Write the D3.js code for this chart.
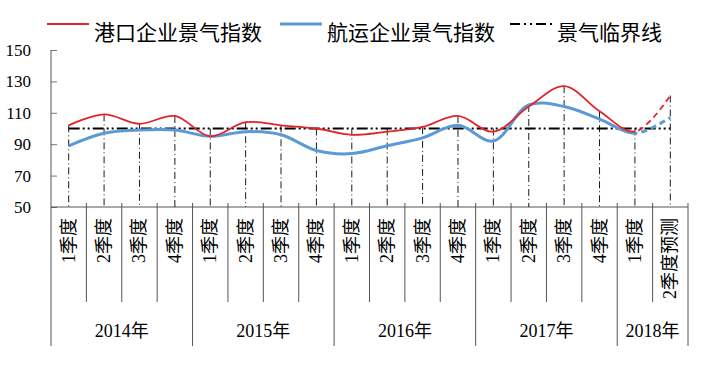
<!DOCTYPE html>
<html>
<head>
<meta charset="utf-8">
<script src="https://cdn.jsdelivr.net/npm/d3@7"></script>
<style>
  body { margin: 0; background: #fff; }
  svg { display: block; }
</style>
</head>
<body>
<div id="chart"></div>
<script>
// values
const quarters = ['1季度', '2季度', '3季度', '4季度',
  '1季度', '2季度', '3季度', '4季度',
  '1季度', '2季度', '3季度', '4季度',
  '1季度', '2季度', '3季度', '4季度',
  '1季度', '2季度预测'];
const years = ['2014年', '2015年', '2016年', '2017年', '2018年'];
const quartersPerYear = [4, 4, 4, 4, 2];
const portIndex = [102, 109, 103, 108, 95, 104, 102, 100, 96, 98, 101, 108, 98, 114, 127, 111, 98, 121];
const shippingIndex = [89, 97, 99, 99, 95, 98, 96, 86, 84, 89, 94, 102, 92, 115, 114, 106, 97, 107];
const criticalValue = 100;
const yTicks = [50, 70, 90, 110, 130, 150];
const legendNames = ['港口企业景气指数', '航运企业景气指数', '景气临界线'];

const width = 709, height = 378;
const plotLeft = 51, plotRight = 688, plotTop = 50, plotBottom = 207;
const serif = '"Liberation Serif", "Times New Roman", "Noto Sans CJK SC", serif';
const cjk = '"Liberation Serif", "Noto Sans CJK SC", sans-serif';

const svg = d3.select('#chart').append('svg')
  .attr('width', width)
  .attr('height', height);

const ids = d3.range(quarters.length);
const x = d3.scaleBand().domain(ids).range([plotLeft, plotRight]).padding(0);
const cx = i => x(i) + x.bandwidth() / 2;
const y = d3.scaleLinear().domain([50, 150]).range([plotBottom, plotTop]);

// y axis
const yAxis = svg.append('g')
  .attr('transform', `translate(${plotLeft},0)`)
  .call(d3.axisLeft(y).tickValues(yTicks).tickSize(-6).tickPadding(20));
yAxis.select('.domain').remove();
yAxis.selectAll('line').attr('stroke', '#777');
yAxis.selectAll('text')
  .style('font-family', serif)
  .style('font-size', '17px')
  .attr('fill', '#000');

svg.append('line')
  .attr('x1', plotLeft).attr('x2', plotLeft)
  .attr('y1', plotTop).attr('y2', 346)
  .attr('stroke', '#555');

// x axis line
svg.append('line')
  .attr('x1', plotLeft).attr('x2', plotRight)
  .attr('y1', plotBottom).attr('y2', plotBottom)
  .attr('stroke', '#555');

// category boundaries, long ones at year breaks
const yearStarts = [];
let acc = 0;
quartersPerYear.forEach(n => { yearStarts.push(acc); acc += n; });
for (let i = 1; i <= quarters.length; i++) {
  const isYear = i === quarters.length || yearStarts.includes(i);
  svg.append('line')
    .attr('x1', x(i - 1) + x.bandwidth()).attr('x2', x(i - 1) + x.bandwidth())
    .attr('y1', plotBottom - 4).attr('y2', isYear ? 346 : 302)
    .attr('stroke', '#555');
}

// quarter labels, rotated
svg.append('g').selectAll('text')
  .data(quarters)
  .join('text')
  .attr('transform', (d, i) => `translate(${cx(i) + 6},218) rotate(-90)`)
  .attr('text-anchor', 'end')
  .style('font-family', cjk)
  .style('font-size', '18px')
  .text(d => d);

// year labels
svg.append('g').selectAll('text')
  .data(years)
  .join('text')
  .attr('x', (d, i) => {
    const a = yearStarts[i], b = a + quartersPerYear[i] - 1;
    return (x(a) + x(b) + x.bandwidth()) / 2;
  })
  .attr('y', 337)
  .attr('text-anchor', 'middle')
  .style('font-family', cjk)
  .style('font-size', '18px')
  .text(d => d);

// drop lines from highest value to the axis
svg.append('g').selectAll('line')
  .data(ids)
  .join('line')
  .attr('x1', cx).attr('x2', cx)
  .attr('y1', i => y(Math.max(portIndex[i], shippingIndex[i], criticalValue)))
  .attr('y2', plotBottom)
  .attr('stroke', '#000')
  .attr('stroke-width', 0.9)
  .attr('stroke-dasharray', '7,3,1,3');

// critical line
svg.append('line')
  .attr('x1', cx(0)).attr('x2', cx(quarters.length - 1))
  .attr('y1', y(criticalValue)).attr('y2', y(criticalValue))
  .attr('stroke', '#000')
  .attr('stroke-width', 1.8)
  .attr('stroke-dasharray', '11,3,2,3,2,3');

// clip regions: solid up to 2018Q1, dashed forecast afterwards
const splitX = cx(quarters.length - 2);
const defs = svg.append('defs');
defs.append('clipPath').attr('id', 'actual')
  .append('rect').attr('x', 0).attr('y', 0).attr('width', splitX).attr('height', height);
defs.append('clipPath').attr('id', 'forecast')
  .append('rect').attr('x', splitX).attr('y', 0).attr('width', width - splitX).attr('height', height);

const line = d3.line()
  .x((d, i) => cx(i))
  .y(d => y(d))
  .curve(d3.curveCatmullRom.alpha(0.5));

const series = [
  { values: shippingIndex, color: '#5b9bd5', w: 3 },
  { values: portIndex, color: '#e3232a', w: 1.8 }
];
series.forEach(s => {
  svg.append('path')
    .attr('d', line(s.values))
    .attr('fill', 'none')
    .attr('stroke', s.color)
    .attr('stroke-width', s.w)
    .attr('clip-path', 'url(#actual)');
  svg.append('path')
    .attr('d', line(s.values))
    .attr('fill', 'none')
    .attr('stroke', s.color)
    .attr('stroke-width', s.w)
    .attr('stroke-dasharray', '6,4')
    .attr('clip-path', 'url(#forecast)');
});

// legend
const legend = [
  { x: 47, color: '#e3232a', w: 2, dash: null },
  { x: 280, color: '#5b9bd5', w: 3, dash: null },
  { x: 510, color: '#000', w: 2, dash: '10,4,2,4,2,4' }
];
legend.forEach((l, i) => {
  svg.append('line')
    .attr('x1', l.x).attr('x2', l.x + 42)
    .attr('y1', 24).attr('y2', 24)
    .attr('stroke', l.color)
    .attr('stroke-width', l.w)
    .attr('stroke-dasharray', l.dash);
  svg.append('text')
    .attr('x', l.x + 47)
    .attr('y', 40)
    .style('font-family', '"Noto Sans CJK SC", sans-serif')
    .style('font-size', '21px')
    .text(legendNames[i]);
});
</script>
</body>
</html>
